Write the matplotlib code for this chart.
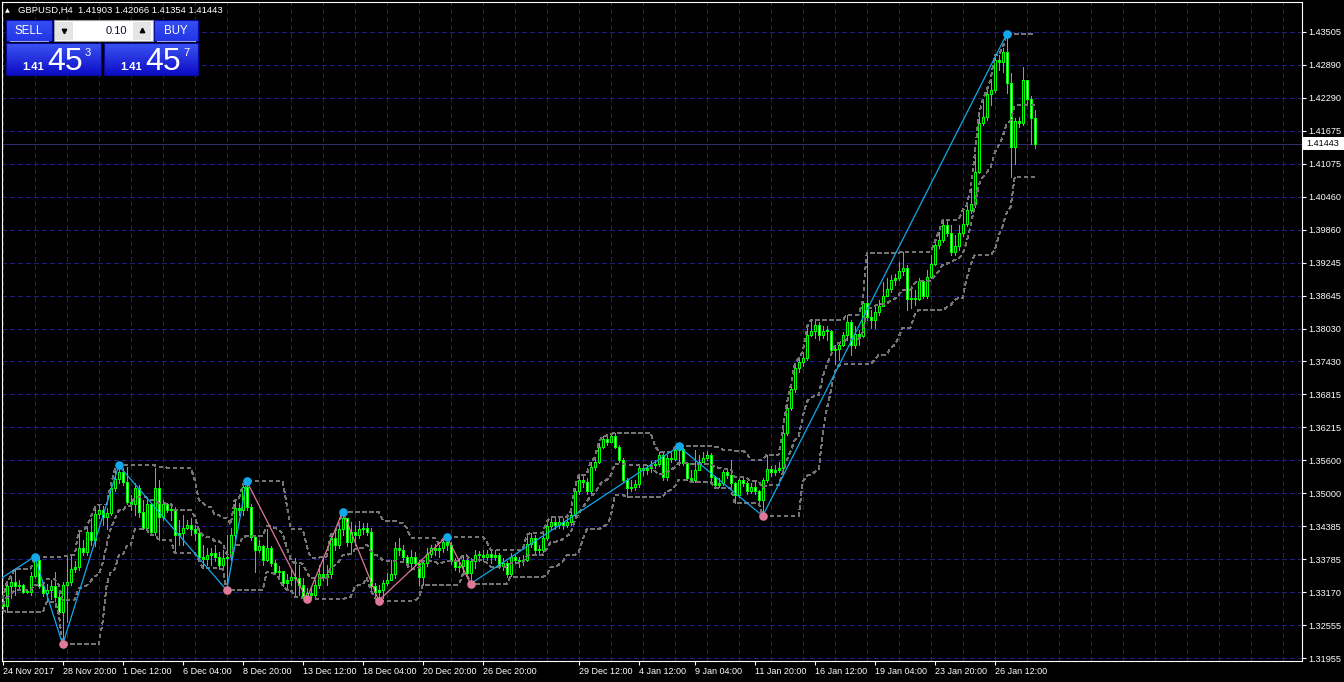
import numpy as np
import pandas as pd
import matplotlib
matplotlib.use("Agg")
import matplotlib.pyplot as plt
from matplotlib.patches import Rectangle

plt.rcParams['font.family'] = ['Liberation Sans', 'DejaVu Sans']
plt.rcParams['lines.scale_dashes'] = False

# GBPUSD H4 candles (open of a bar = close of the bar before)
first_open = 1.3300
close = [1.3291, 1.3328, 1.3337, 1.3328, 1.3331, 1.3318, 1.3318, 1.3348, 1.3377, 1.3329,
         1.3316, 1.3322, 1.3329, 1.3309, 1.3281, 1.3331, 1.3337, 1.3361, 1.3364, 1.3399,
         1.3392, 1.3429, 1.3414, 1.3462, 1.3469, 1.3456, 1.3464, 1.3510, 1.3526, 1.3538,
         1.3521, 1.3484, 1.3479, 1.3510, 1.3466, 1.3436, 1.3479, 1.3429, 1.3510, 1.3456,
         1.3479, 1.3469, 1.3468, 1.3423, 1.3427, 1.3436, 1.3442, 1.3433, 1.3427, 1.3383,
         1.3379, 1.3385, 1.3390, 1.3383, 1.3368, 1.3381, 1.3383, 1.3423, 1.3473, 1.3468,
         1.3512, 1.3475, 1.3420, 1.3396, 1.3403, 1.3377, 1.3398, 1.3372, 1.3355, 1.3357,
         1.3335, 1.3339, 1.3346, 1.3344, 1.3331, 1.3311, 1.3316, 1.3313, 1.3331, 1.3350,
         1.3346, 1.3351, 1.3418, 1.3405, 1.3433, 1.3455, 1.3409, 1.3429, 1.3423, 1.3433,
         1.3436, 1.3429, 1.3328, 1.3318, 1.3322, 1.3335, 1.3340, 1.3350, 1.3399, 1.3396,
         1.3383, 1.3372, 1.3383, 1.3372, 1.3346, 1.3372, 1.3388, 1.3399, 1.3396, 1.3399,
         1.3409, 1.3405, 1.3374, 1.3364, 1.3366, 1.3377, 1.3353, 1.3375, 1.3386, 1.3385,
         1.3383, 1.3388, 1.3383, 1.3386, 1.3366, 1.3372, 1.3350, 1.3383, 1.3377, 1.3374,
         1.3377, 1.3407, 1.3418, 1.3396, 1.3396, 1.3418, 1.3440, 1.3447, 1.3442, 1.3447,
         1.3442, 1.3447, 1.3460, 1.3503, 1.3525, 1.3521, 1.3503, 1.3549, 1.3558, 1.3585,
         1.3600, 1.3595, 1.3606, 1.3585, 1.3561, 1.3525, 1.3510, 1.3512, 1.3517, 1.3547,
         1.3543, 1.3547, 1.3552, 1.3554, 1.3571, 1.3530, 1.3565, 1.3563, 1.3580, 1.3582,
         1.3556, 1.3528, 1.3525, 1.3543, 1.3558, 1.3565, 1.3571, 1.3530, 1.3515, 1.3519,
         1.3539, 1.3534, 1.3519, 1.3497, 1.3525, 1.3519, 1.3503, 1.3512, 1.3503, 1.3488,
         1.3525, 1.3545, 1.3538, 1.3543, 1.3547, 1.3611, 1.3657, 1.3692, 1.3731, 1.3742,
         1.3749, 1.3792, 1.3799, 1.3810, 1.3792, 1.3799, 1.3799, 1.3764, 1.3766, 1.3773,
         1.3792, 1.3816, 1.3773, 1.3794, 1.3790, 1.3851, 1.3825, 1.3819, 1.3834, 1.3845,
         1.3864, 1.3876, 1.3893, 1.3897, 1.3910, 1.3915, 1.3858, 1.3860, 1.3858, 1.3891,
         1.3864, 1.3899, 1.3923, 1.3958, 1.3967, 1.3994, 1.3980, 1.3945, 1.3956, 1.3980,
         1.3996, 1.4022, 1.4033, 1.4092, 1.4182, 1.4193, 1.4236, 1.4243, 1.4298, 1.4295,
         1.4313, 1.4256, 1.4138, 1.4186, 1.4182, 1.4262, 1.4227, 1.4191, 1.41443]
high = [1.3305, 1.3335, 1.3346, 1.3361, 1.3340, 1.3333, 1.3324, 1.3355, 1.3383, 1.3381,
        1.3331, 1.3333, 1.3339, 1.3355, 1.3316, 1.3337, 1.3384, 1.3386, 1.3374, 1.3431,
        1.3414, 1.3438, 1.3455, 1.3473, 1.3479, 1.3477, 1.3473, 1.3515, 1.3543, 1.3551,
        1.3547, 1.3549, 1.3497, 1.3519, 1.3515, 1.3488, 1.3492, 1.3479, 1.3547, 1.3525,
        1.3488, 1.3482, 1.3475, 1.3475, 1.3451, 1.3460, 1.3451, 1.3455, 1.3442, 1.3436,
        1.3405, 1.3399, 1.3399, 1.3405, 1.3392, 1.3396, 1.3423, 1.3436, 1.3488, 1.3482,
        1.3515, 1.3522, 1.3479, 1.3423, 1.3414, 1.3405, 1.3433, 1.3403, 1.3377, 1.3366,
        1.3355, 1.3350, 1.3359, 1.3381, 1.3368, 1.3344, 1.3326, 1.3329, 1.3340, 1.3368,
        1.3383, 1.3368, 1.3423, 1.3429, 1.3442, 1.3466, 1.3451, 1.3447, 1.3442, 1.3449,
        1.3445, 1.3445, 1.3436, 1.3335, 1.3331, 1.3340, 1.3353, 1.3377, 1.3409, 1.3418,
        1.3405, 1.3386, 1.3396, 1.3392, 1.3377, 1.3377, 1.3399, 1.3405, 1.3407, 1.3405,
        1.3414, 1.3420, 1.3410, 1.3381, 1.3381, 1.3386, 1.3385, 1.3381, 1.3396, 1.3394,
        1.3396, 1.3396, 1.3394, 1.3396, 1.3390, 1.3381, 1.3374, 1.3390, 1.3386, 1.3383,
        1.3385, 1.3423, 1.3427, 1.3423, 1.3405, 1.3427, 1.3447, 1.3456, 1.3456, 1.3456,
        1.3455, 1.3455, 1.3466, 1.3510, 1.3534, 1.3532, 1.3528, 1.3558, 1.3565, 1.3593,
        1.3606, 1.3606, 1.3609, 1.3611, 1.3589, 1.3565, 1.3528, 1.3525, 1.3525, 1.3552,
        1.3550, 1.3552, 1.3560, 1.3561, 1.3576, 1.3576, 1.3571, 1.3576, 1.3584, 1.3586,
        1.3584, 1.3558, 1.3543, 1.3580, 1.3571, 1.3576, 1.3578, 1.3574, 1.3532, 1.3528,
        1.3543, 1.3543, 1.3561, 1.3521, 1.3528, 1.3532, 1.3523, 1.3519, 1.3521, 1.3506,
        1.3528, 1.3571, 1.3550, 1.3552, 1.3558, 1.3617, 1.3663, 1.3698, 1.3737, 1.3749,
        1.3760, 1.3805, 1.3819, 1.3819, 1.3816, 1.3808, 1.3808, 1.3801, 1.3773, 1.3777,
        1.3797, 1.3829, 1.3819, 1.3808, 1.3801, 1.3854, 1.3943, 1.3838, 1.3847, 1.3856,
        1.3889, 1.3897, 1.3902, 1.3904, 1.3926, 1.3945, 1.3921, 1.3882, 1.3875, 1.3897,
        1.3893, 1.3912, 1.3939, 1.3963, 1.3981, 1.4004, 1.4004, 1.3994, 1.3976, 1.3994,
        1.4022, 1.4031, 1.4063, 1.4123, 1.4197, 1.4225, 1.4243, 1.4262, 1.4308, 1.4308,
        1.4321, 1.4346, 1.4274, 1.4191, 1.4193, 1.4285, 1.4262, 1.4232, 1.42066]
low = [1.3285, 1.3280, 1.3307, 1.3313, 1.3322, 1.3315, 1.3315, 1.3313, 1.3344, 1.3326,
       1.3311, 1.3300, 1.3304, 1.3302, 1.3278, 1.3221, 1.3263, 1.3331, 1.3355, 1.3359,
       1.3385, 1.3385, 1.3405, 1.3403, 1.3455, 1.3442, 1.3433, 1.3460, 1.3503, 1.3519,
       1.3515, 1.3480, 1.3469, 1.3460, 1.3456, 1.3433, 1.3433, 1.3423, 1.3423, 1.3414,
       1.3451, 1.3466, 1.3451, 1.3390, 1.3405, 1.3405, 1.3433, 1.3423, 1.3414, 1.3377,
       1.3362, 1.3368, 1.3368, 1.3374, 1.3362, 1.3359, 1.3321, 1.3377, 1.3405, 1.3460,
       1.3460, 1.3469, 1.3414, 1.3355, 1.3392, 1.3368, 1.3374, 1.3366, 1.3350, 1.3344,
       1.3329, 1.3322, 1.3331, 1.3309, 1.3313, 1.3307, 1.3305, 1.3307, 1.3309, 1.3326,
       1.3340, 1.3331, 1.3344, 1.3396, 1.3399, 1.3423, 1.3403, 1.3392, 1.3405, 1.3418,
       1.3425, 1.3423, 1.3322, 1.3307, 1.3302, 1.3307, 1.3331, 1.3344, 1.3344, 1.3386,
       1.3377, 1.3364, 1.3359, 1.3368, 1.3331, 1.3331, 1.3366, 1.3383, 1.3386, 1.3383,
       1.3392, 1.3396, 1.3370, 1.3359, 1.3355, 1.3350, 1.3350, 1.3333, 1.3362, 1.3374,
       1.3374, 1.3377, 1.3372, 1.3377, 1.3362, 1.3359, 1.3346, 1.3348, 1.3372, 1.3364,
       1.3368, 1.3374, 1.3401, 1.3390, 1.3386, 1.3392, 1.3414, 1.3433, 1.3433, 1.3436,
       1.3433, 1.3438, 1.3442, 1.3456, 1.3499, 1.3512, 1.3499, 1.3497, 1.3543, 1.3556,
       1.3584, 1.3589, 1.3595, 1.3584, 1.3558, 1.3521, 1.3493, 1.3503, 1.3506, 1.3512,
       1.3534, 1.3536, 1.3539, 1.3547, 1.3550, 1.3525, 1.3525, 1.3558, 1.3561, 1.3552,
       1.3552, 1.3525, 1.3521, 1.3521, 1.3543, 1.3558, 1.3561, 1.3525, 1.3510, 1.3512,
       1.3515, 1.3528, 1.3514, 1.3482, 1.3492, 1.3514, 1.3499, 1.3501, 1.3499, 1.3482,
       1.3458, 1.3521, 1.3532, 1.3534, 1.3539, 1.3543, 1.3608, 1.3654, 1.3687, 1.3724,
       1.3735, 1.3746, 1.3790, 1.3786, 1.3783, 1.3786, 1.3783, 1.3757, 1.3738, 1.3746,
       1.3771, 1.3783, 1.3755, 1.3768, 1.3773, 1.3788, 1.3819, 1.3805, 1.3805, 1.3829,
       1.3847, 1.3864, 1.3871, 1.3884, 1.3893, 1.3902, 1.3838, 1.3842, 1.3847, 1.3856,
       1.3860, 1.3860, 1.3897, 1.3921, 1.3952, 1.3963, 1.3974, 1.3939, 1.3939, 1.3948,
       1.3974, 1.3993, 1.4017, 1.4028, 1.4090, 1.4179, 1.4188, 1.4215, 1.4239, 1.4280,
       1.4276, 1.4238, 1.4083, 1.4107, 1.4175, 1.4179, 1.4219, 1.4144, 1.41354]

# ZigZag pivots (bar index, 'H'/'L'), the leg entering from the left, leg colours
zz_bars = [8, 15, 29, 56, 61, 76, 85, 94, 111, 117, 169, 190, 251]
zz_kind = ['H', 'L', 'H', 'L', 'H', 'L', 'H', 'L', 'H', 'L', 'H', 'L', 'H']
zz_start = (-6, 1.3316)
zz_leg_color = ['c', 'c', 'c', 'c', 'c', 'p', 'p', 'p', 'p', 'p', 'c', 'c', 'c']

price_labels = ['1.31955', '1.32555', '1.33170', '1.33785', '1.34385', '1.35000', '1.35600',
                '1.36215', '1.36815', '1.37430', '1.38030', '1.38645', '1.39245', '1.39860',
                '1.40460', '1.41075', '1.41675', '1.42290', '1.42890', '1.43505']
time_labels = ['24 Nov 2017', '28 Nov 20:00', '1 Dec 12:00', '6 Dec 04:00', '8 Dec 20:00',
               '13 Dec 12:00', '18 Dec 04:00', '20 Dec 20:00', '26 Dec 20:00', '29 Dec 12:00',
               '4 Jan 12:00', '9 Jan 04:00', '11 Jan 20:00', '16 Jan 12:00', '19 Jan 04:00',
               '23 Jan 20:00', '26 Jan 12:00']
time_label_bars = [0, 15, 30, 45, 60, 75, 90, 105, 120, 144, 159, 173, 188, 203, 218, 233, 248]
last_price = 1.41443
ohlc_text = 'GBPUSD,H4  1.41903 1.42066 1.41354 1.41443'

W, H = 1344, 682
GREEN = '#00ff00'
NAVY = '#1e1e7c'
CYAN = '#12a8ea'
PINK = '#e07898'
PX = 0.72  # one pixel in points

fig = plt.figure(figsize=(W / 100, H / 100), dpi=100, facecolor='black')
L, R, T, B = 2, 1301.7, 2, 661
ax = fig.add_axes([L / W, 1 - B / H, (R - L) / W, (B - T) / H], facecolor='black')

grid_prices = np.linspace(1.31955, 1.43505, len(price_labels))
px_per_price = (658.3 - 31.7) / (1.43505 - 1.31955)
one_px = 1 / px_per_price
ax.set_xlim((L - 2.7) / 4, (R - 2.7) / 4)
ax.set_ylim(1.31955 - (B - 658.3) / px_per_price, 1.43505 + (31.7 - T) / px_per_price)

# grid
for p in grid_prices:
    ax.axhline(p, color=NAVY, lw=PX, dashes=(2.9, 2.2), antialiased=False, zorder=1)
for k in range(41):
    ax.axvline(8 * k + 0.075, color=NAVY, lw=PX, dashes=(2.9, 2.2), antialiased=False, zorder=1)
ax.axhline(last_price, color='#2c2c70', lw=PX, antialiased=False, zorder=1.5)

# candles: 1px wick, 3px green body with a 1px white (bear) / black (bull) core
idx = np.arange(len(close))
c = np.array(close)
o = np.r_[first_open, c[:-1]]
hi = np.array(high)
lo = np.array(low)
up = c >= o
b_lo = np.minimum(o, c)
b_hi = np.maximum(np.maximum(o, c), b_lo + one_px)
ax.vlines(idx, lo, hi, color=GREEN, lw=PX, antialiased=False, capstyle='butt', zorder=3)
ax.vlines(idx, b_lo, b_hi, color=GREEN, lw=3 * PX, antialiased=False, capstyle='butt', zorder=4)
core = (b_hi - b_lo) > 2.5 * one_px
ax.vlines(idx[core], b_lo[core] + one_px, b_hi[core] - one_px,
          color=np.where(up[core], 'black', 'white'), lw=PX, antialiased=False,
          capstyle='butt', zorder=4.5)

# price channel (10 bars) with middle line
upper = pd.Series(hi).rolling(10, min_periods=1).max()
lower = pd.Series(lo).rolling(10, min_periods=1).min()
middle = (upper + lower) / 2
for s in (upper, lower, middle):
    ax.plot(idx, s, color='#747474', lw=PX, dashes=(2.2, 2.2), antialiased=False, zorder=5)

# zigzag
zz_x = [zz_start[0]] + zz_bars
zz_y = [zz_start[1]] + [hi[b] if k == 'H' else lo[b] for b, k in zip(zz_bars, zz_kind)]
for n, col in enumerate(zz_leg_color):
    ax.plot(zz_x[n:n + 2], zz_y[n:n + 2], color=CYAN if col == 'c' else PINK, lw=0.9, zorder=6)
for b, k, y in zip(zz_bars, zz_kind, zz_y[1:]):
    ax.plot(b, y, 'o', ms=6.2, mew=0, color=CYAN if k == 'H' else PINK, zorder=7)

# axes and labels
for sp in ax.spines.values():
    sp.set_color('white')
    sp.set_linewidth(0.8)
ax.yaxis.tick_right()
ax.set_yticks(grid_prices)
ax.set_yticklabels(price_labels)
ax.set_xticks(time_label_bars)
ax.set_xticklabels(time_labels, ha='left')
ax.tick_params(axis='y', colors='white', length=3, width=0.8, labelsize=6.6, pad=1.5)
ax.tick_params(axis='x', colors='white', length=3, width=0.8, labelsize=6.5, pad=1.2)

# overlay in pixel coordinates: header, one-click panel, price tag
ov = fig.add_axes([0, 0, 1, 1], zorder=10)
ov.set_xlim(0, W)
ov.set_ylim(H, 0)
ov.axis('off')
ov.patch.set_alpha(0)


def gradient_box(x0, y0, x1, y1, top, bottom):
    t = np.linspace(0, 1, 32)[:, None, None]
    c0 = np.array(matplotlib.colors.to_rgb(top))
    c1 = np.array(matplotlib.colors.to_rgb(bottom))
    img = c0 * (1 - t) + c1 * t
    ov.imshow(img, extent=(x0, x1, y1, y0), aspect='auto', interpolation='bilinear', zorder=1)
    ov.add_patch(Rectangle((x0, y0), x1 - x0, y1 - y0, fill=False, ec='#0a0a9a', lw=0.8, zorder=2))


gradient_box(6, 20, 52, 41, '#3550f2', '#2236e6')
gradient_box(154, 20, 198, 41, '#3550f2', '#2236e6')
gradient_box(6, 43, 101, 75, '#3a54f2', '#0d0dc6')
gradient_box(104, 43, 198, 75, '#3a54f2', '#0d0dc6')
ov.plot([10, 48], [40.5, 40.5], color='#9aa4ee', lw=0.8, zorder=3)
ov.plot([157, 195], [40.5, 40.5], color='#9aa4ee', lw=0.8, zorder=3)
ov.text(29, 30.5, 'SELL', color='white', fontsize=8.3, ha='center', va='center', zorder=4)
ov.text(176, 30.5, 'BUY', color='white', fontsize=8.3, ha='center', va='center', zorder=4)

# lot size spinner
ov.add_patch(Rectangle((53.5, 20), 99, 21, fc='white', ec='#9a9a9a', lw=0.8, zorder=2))
ov.add_patch(Rectangle((55, 21.5), 18, 18, fc='#e4e4e4', ec='none', zorder=3))
ov.add_patch(Rectangle((133, 21.5), 18, 18, fc='#e4e4e4', ec='none', zorder=3))
ov.plot(64, 31, marker='v', ms=3.2, color='black', zorder=4)
ov.plot(142, 30, marker='^', ms=3.2, color='black', zorder=4)
ov.text(127.5, 30.5, '0.10', color='#101030', fontsize=8, ha='right', va='center', zorder=4)

for x0, last in ((6, '3'), (104, '7')):
    ov.text(x0 + 16, 70.5, '1.41', color='white', fontsize=8, fontweight='bold', va='baseline', zorder=4)
    ov.text(x0 + 41, 70.5, '45', color='white', fontsize=23, va='baseline', zorder=4)
    ov.text(x0 + 79, 55.5, last, color='white', fontsize=8, va='baseline', zorder=4)

# header
ov.text(4.5, 10.5, '\u25b2', color='white', fontsize=4.5, family='DejaVu Sans', va='center', zorder=4)
ov.text(18, 10.5, ohlc_text, color='white', fontsize=6.8, va='center', zorder=4)

# current price tag
y_last = 31.7 + (1.43505 - last_price) * px_per_price
ov.add_patch(Rectangle((1302, y_last - 6.5), 42, 13, fc='white', ec='none', zorder=3))
ov.text(1306.5, y_last, f'{last_price:.5f}', color='black', fontsize=6.6, va='center', zorder=4)

fig.savefig('out.png', dpi=100, facecolor='black')
